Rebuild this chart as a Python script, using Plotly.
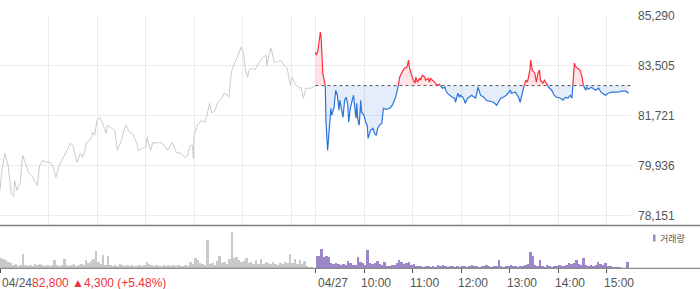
import plotly.graph_objects as go

# ---------------- data ----------------
BASE = 82800  # reference (previous close) level for 04/27
Y_TICKS = [78151, 79936, 81721, 83505, 85290]

# 04/24 session: minutes since 09:00
d1_time = [0, 2, 6, 10, 14, 17, 18, 21, 25, 28, 31, 35, 39, 43, 46, 49, 53, 58, 62, 65,
           69, 73, 78, 83, 87, 90, 94, 95, 99, 102, 105, 107, 111, 115, 117, 120, 123, 127, 131, 133,
           138, 142, 145, 150, 154, 156, 160, 164, 169, 171, 176, 180, 182, 186, 189, 193, 197, 201, 207, 213,
           218, 224, 228, 232, 235, 238, 239, 240, 244, 249, 253, 256, 259, 262, 266, 269, 274, 277, 281, 283,
           286, 288, 292, 296, 298, 301, 303, 306, 308, 312, 315, 320, 324, 329, 330, 333, 335, 339, 343, 347,
           351, 355, 359, 361, 366, 370, 372, 375, 378, 384, 389]
d1_price = [79047, 79693, 80374, 79944, 78939, 78830, 79406, 79047, 79334, 80303, 80051, 79693, 79585, 79406, 79226, 79944, 80123, 80051, 80051, 79944,
            79513, 79944, 80195, 80482, 80733, 80662, 80195, 80051, 80374, 80231, 80482, 80769, 80841, 81128, 81020, 81558, 81666, 81451, 81092, 81379,
            81271, 81200, 80482, 80841, 81271, 81379, 81128, 81092, 80733, 80482, 80554, 80590, 80948, 80482, 80769, 80733, 80769, 80733, 80482, 80769,
            80410, 80374, 80231, 80303, 80662, 80662, 80195, 81020, 81379, 81558, 81487, 81738, 82169, 81810, 81917, 82204, 82348, 82527, 82455, 82384,
            83281, 83460, 83711, 84070, 84178, 83962, 83424, 83101, 83352, 83424, 83352, 83604, 83783, 83891, 83532, 83962, 84142, 83640, 83640, 83711,
            83532, 83424, 82814, 83101, 82814, 82707, 82743, 82348, 82707, 82707, 82778]

# 04/27 session: minutes since 04/24 09:00 (390 = 04/27 09:00)
d2_time = [390, 391, 393, 396, 397, 398, 399, 400, 402, 403, 405, 407, 408, 409, 410, 413, 414, 415, 417, 419,
           420, 424, 426, 428, 430, 431, 433, 435, 437, 440, 441, 442, 444, 445, 446, 447, 450, 452, 454, 455,
           457, 458, 461, 463, 465, 467, 469, 472, 474, 477, 482, 485, 489, 492, 493, 494, 497, 500, 503, 505,
           506, 508, 510, 513, 514, 516, 519, 520, 522, 525, 526, 529, 531, 532, 535, 537, 538, 541, 543, 547,
           550, 551, 553, 556, 559, 562, 563, 566, 568, 569, 572, 574, 575, 578, 580, 583, 588, 591, 594, 598,
           601, 606, 610, 614, 619, 622, 626, 631, 632, 637, 641, 643, 646, 648, 650, 652, 655, 656, 658, 661,
           663, 665, 667, 668, 671, 673, 676, 678, 682, 685, 688, 693, 696, 699, 702, 705, 707, 710, 712, 717,
           719, 721, 724, 725, 727, 731, 736, 740, 743, 748, 752, 756, 760, 764, 768, 774, 777]
d2_price = [84000, 83891, 84070, 84716, 84501, 83783, 83245, 83101, 82814, 81487, 80482, 81128, 81738, 81989, 81738, 82025, 82348, 82635, 82455, 81917,
            82276, 81666, 82276, 82384, 82097, 81487, 81989, 82204, 82455, 81630, 82169, 81630, 81379, 81810, 82276, 81846, 81738, 81487, 81379, 80913,
            81092, 81200, 81271, 81092, 81020, 81271, 81379, 81451, 81989, 81953, 81989, 82097, 82384, 82743, 82886, 83101, 83281, 83424, 83460, 83711,
            83460, 83245, 83066, 82886, 83101, 82922, 83066, 82994, 83173, 83101, 82994, 83066, 82922, 83066, 82994, 82922, 82886, 82814, 82850, 82707,
            82743, 82635, 82527, 82455, 82384, 82348, 82204, 82527, 82384, 82455, 82384, 82276, 82169, 82348, 82384, 82455, 82348, 82743, 82455, 82384,
            82276, 82240, 82204, 82097, 82348, 82384, 82455, 82635, 82527, 82563, 82384, 82204, 82563, 82814, 82994, 82922, 83353, 83711, 83353, 83245,
            82922, 83245, 83353, 82994, 82886, 82994, 82886, 82743, 82635, 82455, 82384, 82348, 82276, 82384, 82348, 82455, 82348, 83604, 83460, 83353,
            83173, 82814, 82635, 82743, 82671, 82743, 82635, 82707, 82563, 82455, 82527, 82563, 82563, 82563, 82599, 82599, 82527]

# volume per 3-minute bucket (thousand shares)
vol1 = [10, 9, 8, 6, 5, 3, 4, 2, 3, 14, 3, 2, 3, 2, 4, 3, 4, 3, 2, 3,
        2, 3, 8, 3, 2, 3, 9, 3, 2, 3, 4, 2, 3, 4, 3, 8, 5, 7, 9, 17,
        6, 4, 13, 3, 12, 3, 2, 3, 2, 4, 3, 2, 3, 2, 3, 2, 2, 3, 2, 3,
        6, 4, 3, 2, 3, 2, 2, 3, 2, 3, 2, 3, 2, 3, 2, 2, 3, 2, 6, 4,
        10, 8, 5, 4, 3, 28, 4, 5, 3, 7, 12, 5, 6, 4, 9, 36, 10, 11, 8, 6,
        7, 10, 5, 6, 4, 8, 4, 9, 4, 6, 5, 4, 6, 4, 3, 5, 4, 6, 5, 14,
        5, 9, 4, 8, 4, 7, 2, 1, 1, 0]
vol2 = [12, 12, 19, 11, 12, 11, 5, 4, 5, 4, 3, 4, 3, 7, 5, 3, 3, 11, 6, 5,
        3, 18, 5, 4, 5, 7, 4, 3, 6, 2, 2, 3, 3, 5, 8, 6, 4, 5, 6, 3,
        4, 2, 2, 2, 1, 2, 2, 1, 2, 1, 3, 2, 3, 2, 1, 2, 2, 1, 2, 1,
        2, 2, 1, 2, 3, 2, 2, 1, 2, 2, 3, 2, 1, 2, 2, 8, 2, 1, 2, 2,
        3, 2, 2, 1, 2, 2, 3, 4, 16, 12, 3, 2, 8, 2, 1, 3, 2, 1, 2, 2,
        3, 2, 2, 3, 5, 4, 5, 8, 4, 3, 10, 3, 2, 3, 2, 3, 6, 4, 3, 5,
        2, 2, 1, 1, 1, 1, 0, 0, 6, 0]
BUCKET = 3

X_GRID = [0, 60, 120, 180, 240, 300, 360, 390, 450, 510, 570, 630, 690, 750]
X_TICKS2 = [0, 390, 450, 510, 570, 630, 690, 750]
X_LABELS = [(0, "04/24"), (390, "04/27"), (450, "10:00"), (510, "11:00"), (570, "12:00"),
            (630, "13:00"), (690, "14:00"), (750, "15:00")]
INFO_TEXT = "82,800 ▲4,300 (+5.48%)"

# ---------------- styling ----------------
W, H = 700, 289
RED, BLUE, GRAY = "#ff2d3a", "#2c74da", "#c9cacf"
PINK_FILL, BLUE_FILL = "rgba(255,40,60,0.13)", "rgba(40,110,220,0.12)"
VOL_GRAY, VOL_PURPLE = "#c8c9cc", "#9c88c8"
FONT = "Liberation Sans, Arial, sans-serif"

def py(px):  # pixel row -> paper fraction
    return 1 - px / H

# split today's line at the base level so each side can be coloured
ext_t, ext_p = [], []
for i in range(len(d2_time)):
    t0, p0 = d2_time[i], d2_price[i]
    ext_t.append(t0); ext_p.append(p0)
    if i + 1 < len(d2_time):
        t1, p1 = d2_time[i + 1], d2_price[i + 1]
        if (p0 - BASE) * (p1 - BASE) < 0:
            ext_t.append(t0 + (BASE - p0) / (p1 - p0) * (t1 - t0)); ext_p.append(BASE)
up_line = [p if p >= BASE else None for p in ext_p]
dn_line = [p if p <= BASE else None for p in ext_p]
up_fill = [max(p, BASE) for p in ext_p]
dn_fill = [min(p, BASE) for p in ext_p]

fig = go.Figure()
fig.add_trace(go.Scatter(x=d1_time, y=d1_price, mode="lines", line=dict(color=GRAY, width=1)))
fig.add_trace(go.Scatter(x=ext_t, y=[BASE] * len(ext_t), mode="lines", line=dict(width=0)))
fig.add_trace(go.Scatter(x=ext_t, y=up_fill, mode="lines", line=dict(width=0), fill="tonexty", fillcolor=PINK_FILL))
fig.add_trace(go.Scatter(x=ext_t, y=[BASE] * len(ext_t), mode="lines", line=dict(width=0)))
fig.add_trace(go.Scatter(x=ext_t, y=dn_fill, mode="lines", line=dict(width=0), fill="tonexty", fillcolor=BLUE_FILL))
fig.add_trace(go.Scatter(x=[390, 780], y=[BASE, BASE], mode="lines", line=dict(color="#555", width=1, dash="dot")))
fig.add_trace(go.Scatter(x=ext_t, y=up_line, mode="lines", line=dict(color=RED, width=1.2), connectgaps=False))
fig.add_trace(go.Scatter(x=ext_t, y=dn_line, mode="lines", line=dict(color=BLUE, width=1.2), connectgaps=False))

fig.add_trace(go.Bar(x=[BUCKET * i + BUCKET / 2 for i in range(len(vol1))], y=vol1, width=BUCKET,
                     marker=dict(color=VOL_GRAY, line=dict(width=0)), xaxis="x2", yaxis="y2"))
fig.add_trace(go.Bar(x=[390 + BUCKET * i + BUCKET / 2 for i in range(len(vol2))], y=vol2, width=BUCKET,
                     marker=dict(color=VOL_PURPLE, line=dict(width=0)), xaxis="x2", yaxis="y2"))

xdom = [0, 631 / W]
fig.update_layout(
    template="none",
    width=W, height=H, margin=dict(l=0, r=0, t=0, b=0, pad=0, autoexpand=False),
    paper_bgcolor="white", plot_bgcolor="white", showlegend=False, bargap=0,
    font=dict(family=FONT, size=12, color="#555"),
    xaxis=dict(domain=xdom, range=[0, 780], tickvals=X_GRID, showticklabels=False, ticks="",
               showgrid=True, gridcolor="#ebebeb", gridwidth=1, zeroline=False, showline=False,
               anchor="y", automargin=False),
    yaxis=dict(domain=[py(225.5), py(16)], range=[77792, 85291], side="right", anchor="x",
               tickvals=Y_TICKS, tickformat=",d", showgrid=True, gridcolor="#ebebeb", gridwidth=1,
               zeroline=False, showline=False, ticks="", ticklabelstandoff=6, automargin=False,
               tickfont=dict(family=FONT, size=12, color="#555")),
    xaxis2=dict(domain=xdom, range=[0, 780], matches="x", anchor="y2", tickvals=X_TICKS2,
                showticklabels=False, ticks="outside", ticklen=4, tickwidth=1, tickcolor="#555",
                showgrid=False, zeroline=False, showline=False, automargin=False),
    yaxis2=dict(domain=[py(268), py(226)], range=[0, 42], showgrid=False, showticklabels=False,
                zeroline=False, showline=False, ticks="", anchor="x2", automargin=False),
)

fig.add_shape(type="line", xref="paper", yref="paper", x0=0, x1=1, y0=py(225.5), y1=py(225.5),
              line=dict(color="#808080", width=1.5))
fig.add_shape(type="line", xref="paper", yref="paper", x0=0, x1=1, y0=py(268.3), y1=py(268.3),
              line=dict(color="#707070", width=1))

for t, lab in X_LABELS:
    txt = lab
    if t == 0:
        txt = lab + '<span style="color:#f0323c">' + INFO_TEXT + "</span>"
    fig.add_annotation(x=t, xref="x", y=py(282.8), yref="paper", text=txt, showarrow=False,
                       xanchor="left", yanchor="middle", xshift=(0 if t <= 390 else -5),
                       font=dict(family=FONT, size=12, color="#555"))

fig.add_shape(type="rect", xref="paper", yref="paper", x0=653 / W, x1=655.5 / W, y0=py(241.5), y1=py(234.5),
              fillcolor=VOL_PURPLE, line=dict(width=0))
fig.add_annotation(x=657.5 / W, xref="paper", y=py(238), yref="paper", text="거래량", showarrow=False,
                   xanchor="left", yanchor="middle", font=dict(family="Noto Sans CJK KR", size=9, color="#555"))

fig.write_html("out.html")
